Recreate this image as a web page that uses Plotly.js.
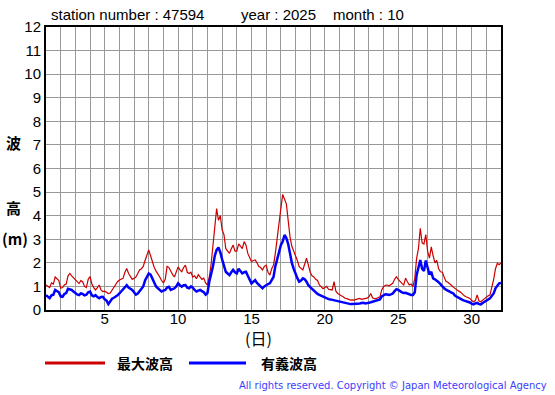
<!DOCTYPE html>
<html>
<head>
<meta charset="utf-8">
<script src="https://cdn.plot.ly/plotly-3.0.1.min.js"></script>
<style>html,body{margin:0;padding:0;background:#fff;}#chart{width:555px;height:395px;}</style>
</head>
<body>
<div id="chart"></div>
<script>
// ---- data (3-hourly readings, October 2025, station 47594) ----
const stepHours = 3;
// 最大波高 (maximum wave height, m)
const maxWave = [
  1.06,1.0,0.95,1.15,1.1,1.4,1.3,1.25,      // day 1
  0.92,0.95,1.06,1.1,1.45,1.55,1.45,1.35,   // day 2
  1.27,1.2,1.12,1.25,1.2,1.0,0.95,1.3,      // day 3
  1.42,1.1,0.95,0.85,0.95,1.06,0.85,0.78,   // day 4
  0.8,0.75,0.7,0.72,0.85,0.95,1.13,1.2,     // day 5
  1.27,1.3,1.34,1.6,1.76,1.55,1.45,1.3,     // day 6
  1.35,1.4,1.55,1.7,1.75,1.85,2.1,2.35,     // day 7
  2.55,2.3,2.0,1.8,1.65,1.55,1.4,1.25,      // day 8
  1.15,1.3,1.85,1.8,1.62,1.5,1.4,1.6,       // day 9
  1.83,1.7,1.62,1.8,1.9,1.6,1.55,1.6,       // day 10
  1.4,1.45,1.33,1.5,1.4,1.3,1.35,1.15,      // day 11
  1.06,1.4,1.95,2.75,3.45,4.3,3.8,4.0,      // day 12
  3.4,3.2,2.6,2.5,2.4,2.6,2.75,2.5,         // day 13
  2.5,2.8,2.7,2.6,2.9,2.75,2.4,2.2,         // day 14
  2.05,2.1,2.12,2.0,1.84,1.8,1.7,1.85,      // day 15
  1.9,1.6,1.48,1.75,1.9,2.4,3.1,3.7,        // day 16
  4.3,4.9,4.7,4.5,3.8,3.1,2.7,2.5,          // day 17
  2.35,2.1,1.84,1.75,1.7,1.95,2.2,1.9,      // day 18
  1.6,1.45,1.4,1.3,1.25,1.06,1.0,0.9,       // day 19
  0.95,1.0,0.88,0.85,0.85,1.2,0.8,0.7,      // day 20
  0.64,0.6,0.56,0.5,0.48,0.45,0.42,0.43,    // day 21
  0.42,0.45,0.46,0.49,0.45,0.46,0.49,0.5,   // day 22
  0.56,0.7,0.52,0.48,0.49,0.52,0.56,0.85,   // day 23
  0.99,1.05,1.06,1.03,1.1,1.13,1.3,1.41,    // day 24
  1.3,1.2,1.13,1.06,1.35,1.2,1.06,1.1,      // day 25
  0.99,1.34,2.19,2.6,3.46,2.85,2.8,3.2,     // day 26
  2.5,2.2,2.68,2.3,2.0,2.1,1.75,1.62,       // day 27
  1.6,1.4,1.22,1.18,1.13,1.05,0.97,0.9,     // day 28
  0.85,0.8,0.75,0.66,0.6,0.56,0.52,0.49,    // day 29
  0.4,0.35,0.4,0.64,0.38,0.35,0.42,0.48,    // day 30
  0.56,0.6,0.64,0.95,1.3,1.75,1.98,1.92,    // day 31
  2.0
];
// 有義波高 (significant wave height, m)
const sigWave = [
  0.63,0.55,0.5,0.62,0.65,0.85,0.8,0.75,    // day 1
  0.58,0.56,0.68,0.72,0.9,0.88,0.85,0.78,   // day 2
  0.7,0.66,0.63,0.7,0.68,0.62,0.65,0.75,    // day 3
  0.78,0.62,0.58,0.63,0.55,0.5,0.55,0.56,   // day 4
  0.45,0.4,0.25,0.35,0.48,0.52,0.56,0.62,   // day 5
  0.7,0.8,0.85,1.0,1.05,0.95,0.9,0.85,      // day 6
  0.75,0.65,0.7,0.8,0.92,1.0,1.25,1.4,      // day 7
  1.55,1.5,1.35,1.15,1.0,0.92,0.85,0.78,    // day 8
  0.82,0.85,0.95,0.98,0.85,0.88,0.92,1.0,   // day 9
  1.13,1.05,0.99,1.05,1.06,0.95,0.92,1.0,   // day 10
  0.95,0.85,0.78,0.82,0.85,0.8,0.75,0.65,   // day 11
  0.72,1.2,1.5,1.85,2.3,2.55,2.65,2.45,     // day 12
  2.15,1.9,1.62,1.55,1.48,1.6,1.7,1.6,      // day 13
  1.55,1.75,1.65,1.55,1.6,1.62,1.45,1.3,    // day 14
  1.13,1.2,1.27,1.15,1.06,0.98,0.92,1.0,    // day 15
  1.06,1.1,1.13,1.25,1.4,1.85,2.2,2.45,     // day 16
  2.75,2.9,3.18,3.05,2.8,2.3,2.0,1.75,      // day 17
  1.5,1.35,1.2,1.25,1.34,1.3,1.2,1.05,      // day 18
  0.97,0.9,0.82,0.72,0.68,0.64,0.6,0.56,    // day 19
  0.52,0.49,0.46,0.45,0.43,0.42,0.4,0.37,   // day 20
  0.35,0.33,0.31,0.3,0.28,0.26,0.25,0.25,   // day 21
  0.25,0.27,0.28,0.28,0.3,0.31,0.28,0.28,   // day 22
  0.31,0.33,0.35,0.37,0.38,0.42,0.45,0.58,  // day 23
  0.64,0.67,0.66,0.64,0.66,0.7,0.8,0.88,    // day 24
  0.85,0.78,0.75,0.72,0.73,0.7,0.66,0.64,   // day 25
  0.64,0.75,1.48,1.8,2.12,1.75,1.65,2.1,    // day 26
  1.8,1.5,1.62,1.34,1.3,1.25,1.18,1.1,      // day 27
  1.0,0.92,0.86,0.8,0.78,0.74,0.7,0.6,      // day 28
  0.55,0.5,0.48,0.43,0.4,0.38,0.35,0.32,    // day 29
  0.27,0.24,0.28,0.3,0.25,0.24,0.3,0.34,    // day 30
  0.38,0.44,0.49,0.6,0.7,0.92,1.05,1.13,    // day 31
  1.15
];
const xTickDays = [5, 10, 15, 20, 25, 30];
const yTickValues = [0,1,2,3,4,5,6,7,8,9,10,11,12];
const seriesNames = ['最大波高', '有義波高'];
const titleParts = ['station number : 47594', 'year : 2025', 'month : 10'];
const xUnitLabel = '(日)';
const yLabelParts = ['波', '高', '(m)'];
const copyrightText = 'All rights reserved. Copyright © Japan Meteorological Agency';

// ---- build ----
const days = maxWave.map((_, i) => 1 + i * stepHours / 24);
const gridDays = [];
for (let d = 1; d <= 32; d++) gridDays.push(d);
const gridText = gridDays.map(d => xTickDays.includes(d) ? String(d) : '');

const L = 46, R = 501, T = 27, B = 310;
const px = x => (x - L) / (R - L);
const py = y => (B - y) / (B - T);

const latin = 'Liberation Sans, Arial, sans-serif';
const cjk = 'Noto Sans CJK JP, sans-serif';

const traces = [
  {x: days, y: maxWave, type: 'scatter', mode: 'lines', name: seriesNames[0],
   line: {color: '#cc0000', width: 1.2}},
  {x: days, y: sigWave, type: 'scatter', mode: 'lines', name: seriesNames[1],
   line: {color: '#0000ff', width: 2.5}}
];

const ann = [];
const addText = (text, x, y, font, xanchor) => ann.push({
  text, x: px(x), y: py(y), xref: 'paper', yref: 'paper', showarrow: false,
  xanchor: xanchor || 'center', yanchor: 'middle', font
});
const titleX = [49, 239, 331];
titleParts.forEach((t, i) => addText(t, titleX[i], 15, {family: latin, size: 15, color: '#000'}, 'left'));
addText(xUnitLabel, 258, 338, {family: cjk, size: 16, color: '#000'});
const yLabY = [142, 207, 238];
yLabelParts.forEach((t, i) => addText(t, i === 2 ? 15 : 13, yLabY[i], {family: cjk, size: 15, color: '#000', weight: 'bold'}));
addText(seriesNames[0], 115, 363, {family: cjk, size: 14, color: '#000', weight: 'bold'}, 'left');
addText(seriesNames[1], 259, 363, {family: cjk, size: 14, color: '#000', weight: 'bold'}, 'left');
addText(copyrightText, 549, 385, {family: 'DejaVu Sans, sans-serif', size: 10, color: '#3c3cff'}, 'right');

const shapes = [
  {type: 'line', xref: 'paper', yref: 'paper', x0: px(45), x1: px(105), y0: py(363), y1: py(363),
   line: {color: '#cc0000', width: 3}},
  {type: 'line', xref: 'paper', yref: 'paper', x0: px(189), x1: px(246), y0: py(363), y1: py(363),
   line: {color: '#0000ff', width: 3}}
];

const layout = {
  width: 555, height: 395,
  margin: {l: L, r: 555 - R, t: T, b: 395 - B, pad: 0},
  paper_bgcolor: '#fff', plot_bgcolor: '#fff',
  showlegend: false,
  font: {family: latin, size: 15, color: '#000'},
  xaxis: {
    range: [1, 32], tickmode: 'array', tickvals: gridDays, ticktext: gridText,
    showgrid: true, gridcolor: '#999', gridwidth: 1, zeroline: false,
    showline: true, mirror: true, linecolor: '#000', linewidth: 2,
    ticks: '', ticklabelstandoff: -6,
    tickfont: {family: latin, size: 15, color: '#000'}, fixedrange: true
  },
  yaxis: {
    range: [0, 12], tickmode: 'array', tickvals: yTickValues,
    showgrid: true, gridcolor: '#999', gridwidth: 1, zeroline: false,
    showline: true, mirror: true, linecolor: '#000', linewidth: 2,
    ticks: '', tickfont: {family: latin, size: 15, color: '#000'}, fixedrange: true
  },
  annotations: ann,
  shapes: shapes
};

Plotly.newPlot('chart', traces, layout, {staticPlot: true, displayModeBar: false});
</script>
</body>
</html>
